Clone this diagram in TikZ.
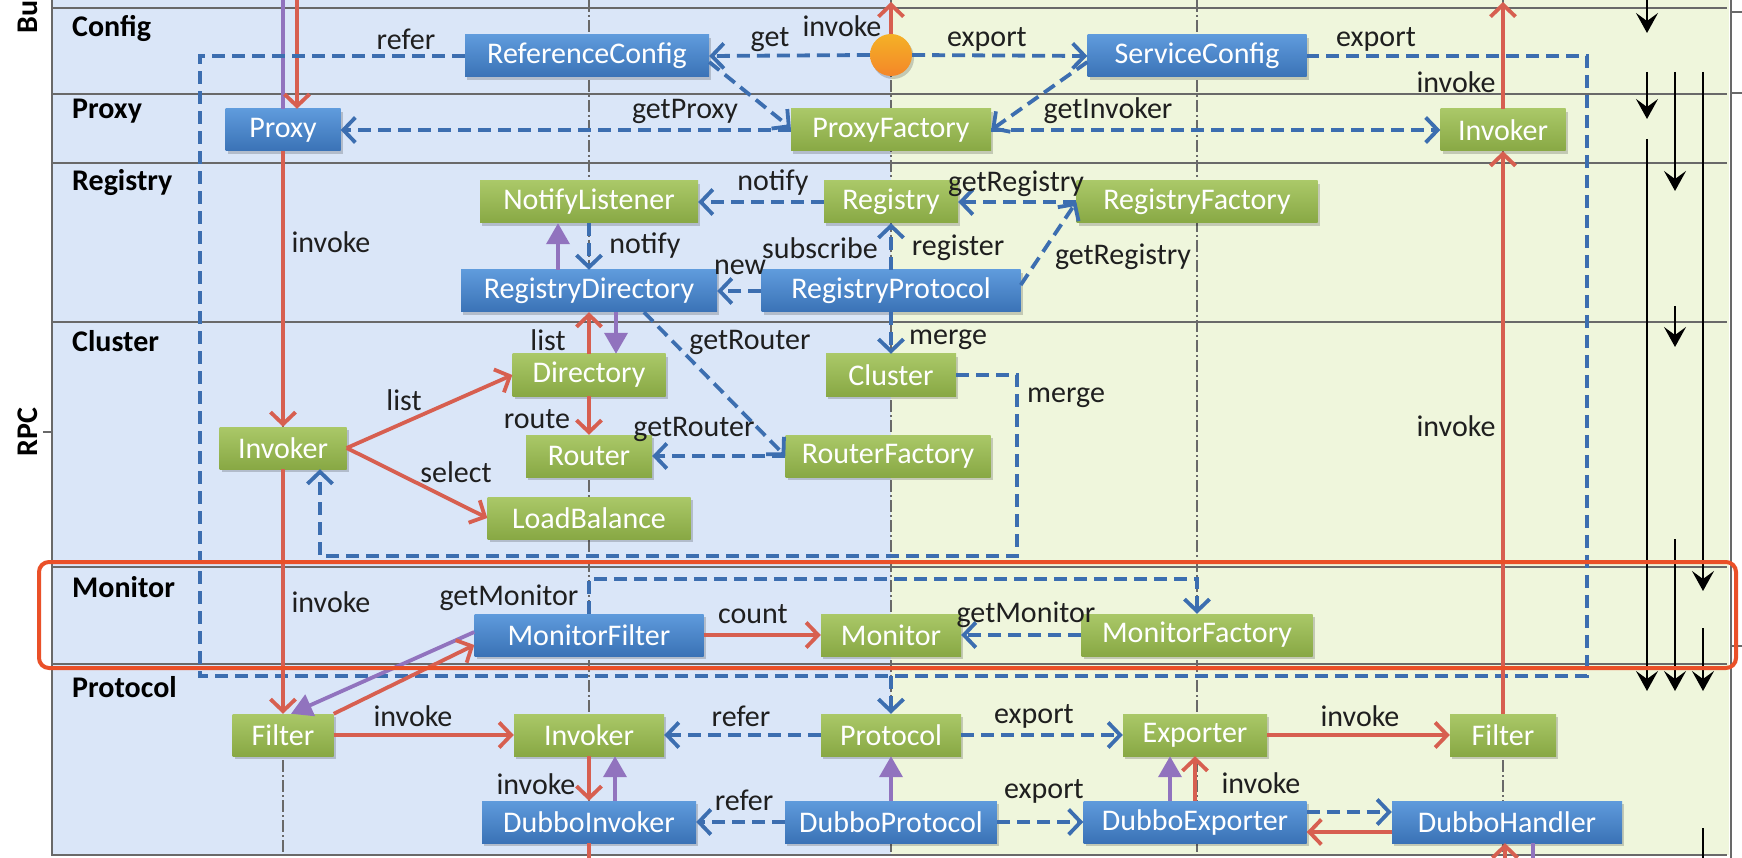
\documentclass[tikz,border=0pt]{standalone}
\usepackage{fontspec}
\setmainfont{Carlito}
\usetikzlibrary{arrows.meta,shadows}
\definecolor{bgblue}{RGB}{218,230,248}
\definecolor{bgyel}{RGB}{239,246,220}
\definecolor{bbtop}{RGB}{95,155,220}
\definecolor{bbbot}{RGB}{58,114,182}
\definecolor{gbtop}{RGB}{170,200,104}
\definecolor{gbbot}{RGB}{136,168,68}
\definecolor{dblue}{RGB}{60,110,176}
\definecolor{lred}{RGB}{215,95,80}
\definecolor{lpurple}{RGB}{145,115,190}
\definecolor{hlred}{RGB}{234,80,40}
\definecolor{gridgray}{RGB}{105,105,105}
\definecolor{orng}{RGB}{242,158,48}
\begin{document}
\begin{tikzpicture}[x=1pt,y=-1pt,
  font=\fontsize{30}{34}\selectfont,
  box/.style={rectangle, minimum height=42pt, inner xsep=14pt, inner ysep=2pt, text=white,
    general shadow={fill=black, opacity=0.18, shadow xshift=2pt, shadow yshift=-3pt}},
  bbox/.style={box, top color=bbtop, bottom color=bbbot},
  gbox/.style={box, top color=gbtop, bottom color=gbbot},
  lbl/.style={text=black!88, inner sep=0pt},
  layername/.style={font=\fontsize{30}{34}\selectfont\bfseries, anchor=west, inner sep=0pt},
  dep/.style={draw=dblue, line width=3.8pt, dash pattern=on 13pt off 7pt,
    -{Straight Barb[length=12pt,width=25pt]}},
  depline/.style={draw=dblue, line width=3.8pt, dash pattern=on 13pt off 7pt},
  inv/.style={draw=lred, line width=3.8pt, -{Straight Barb[length=12pt,width=25pt]}},
  invline/.style={draw=lred, line width=3.8pt},
  impl/.style={draw=lpurple, line width=3.8pt, -{Triangle[length=21pt,width=23pt]}},
  implline/.style={draw=lpurple, line width=3.8pt},
  flow/.style={draw=black, line width=1.8pt, -{Stealth[length=20pt,width=22pt,inset=8pt]}},
  flowline/.style={draw=black, line width=1.8pt},
  layerline/.style={draw=gridgray, line width=2pt},
  colline/.style={draw=gridgray, line width=1.6pt, dash pattern=on 12pt off 3pt on 2pt off 3pt},
]
\useasboundingbox (0,0) rectangle (1742,858);
\fill[white] (0,0) rectangle (1742,858);
\fill[bgblue] (53,0) rectangle (891,855);
\fill[bgyel] (891,0) rectangle (1729,855);

% column dash-dot lines
\foreach \x in {283,589,891,1197,1503} \draw[colline] (\x,0) -- (\x,855);
% layer lines
\foreach \y in {8,94,163,322,567,664,855} \draw[layerline] (52,\y) -- (1727,\y);
% axes
\draw[gridgray, line width=2pt] (52,0) -- (52,855) -- (62,855);
\draw[gridgray, line width=2pt] (52,432) -- (43,432);
\draw[gridgray, line width=2pt] (1731,0) -- (1731,858);
\foreach \y in {12,93,646} \draw[gridgray, line width=2pt] (1731,\y) -- (1742,\y);

% side labels
\node[font=\fontsize{30}{34}\selectfont\bfseries, rotate=90, inner sep=0pt] (bu) at (28,17) {Bu};
\node[font=\fontsize{30}{34}\selectfont\bfseries, rotate=90, inner sep=0pt] (rpc) at (28,432) {RPC};

% layer names
\node[layername] (lConfig) at (72,28) {Config};
\node[layername] (lProxy) at (72,111) {Proxy};
\node[layername] (lRegistry) at (72,183) {Registry};
\node[layername] (lCluster) at (72,341) {Cluster};
\node[layername] (lMonitor) at (72,587) {Monitor};
\node[layername] (lProtocol) at (72,687) {Protocol};

% nodes
\node[bbox, minimum width=244pt] (RefC) at (587,56) {ReferenceConfig};
\node[circle, top color=orng!80!yellow, bottom color=orng!85!red, minimum size=42pt, inner sep=0pt,
  general shadow={fill=black, opacity=0.18, shadow xshift=2pt, shadow yshift=-3pt}] (circ) at (891,55) {};
\node[bbox, minimum width=219pt] (SrvC) at (1197,56) {ServiceConfig};
\node[bbox, minimum width=115pt] (Proxy) at (283,130) {Proxy};
\node[gbox, minimum width=200pt] (PF) at (891,130) {ProxyFactory};
\node[gbox, minimum width=125pt] (InvR) at (1503,130) {Invoker};
\node[gbox, minimum width=218pt] (NL) at (589,202) {NotifyListener};
\node[gbox, minimum width=134pt] (Reg) at (891,202) {Registry};
\node[gbox, minimum width=241pt] (RegF) at (1197,202) {RegistryFactory};
\node[bbox, minimum width=256pt] (RD) at (589,291) {RegistryDirectory};
\node[bbox, minimum width=259pt] (RP) at (891,291) {RegistryProtocol};
\node[gbox, minimum width=153pt] (Dir) at (589,375) {Directory};
\node[gbox, minimum width=130pt] (Clu) at (891,375) {Cluster};
\node[gbox, minimum width=127pt] (InvL) at (283,448) {Invoker};
\node[gbox, minimum width=126pt] (Rou) at (589,456) {Router};
\node[gbox, minimum width=205pt] (RF) at (888,456) {RouterFactory};
\node[gbox, minimum width=203pt] (LB) at (589,518) {LoadBalance};
\node[bbox, minimum width=229pt] (MF) at (589,635) {MonitorFilter};
\node[gbox, minimum width=140pt] (Mon) at (891,635) {Monitor};
\node[gbox, minimum width=231pt] (MFac) at (1197,635) {MonitorFactory};
\node[gbox, minimum width=101pt] (FilL) at (283,735) {Filter};
\node[gbox, minimum width=150pt] (InvP) at (589,735) {Invoker};
\node[gbox, minimum width=140pt] (Prot) at (891,735) {Protocol};
\node[gbox, minimum width=144pt] (Exp) at (1195,735) {Exporter};
\node[gbox, minimum width=106pt] (FilR) at (1503,735) {Filter};
\node[bbox, minimum width=214pt] (DI) at (589,822) {DubboInvoker};
\node[bbox, minimum width=210pt] (DP) at (891,822) {DubboProtocol};
\node[bbox, minimum width=223pt] (DE) at (1195,822) {DubboExporter};
\node[bbox, minimum width=230pt] (DH) at (1507,822) {DubboHandler};

% free coordinates
\coordinate (topP) at (283,0);
\coordinate (topR) at (297,0);
\coordinate (topC) at (891,2);
\coordinate (topRR) at (1503,2);
\coordinate (c1) at (200,56);
\coordinate (c2) at (200,676);
\coordinate (c3) at (1587,676);
\coordinate (c4) at (1587,56);
\coordinate (c5) at (891,676);
\coordinate (l1) at (1017,556);
\coordinate (l2) at (320,556);
\coordinate (m1) at (589,579);
\coordinate (m2) at (1197,579);
\coordinate (b1) at (589,858);
\coordinate (b2) at (1505,858);
\coordinate (b3) at (1533,858);

% Config / Proxy
\draw[implline] (Proxy.north) -- (topP);
\draw[inv] (topR) -- (topR |- Proxy.north);
\draw[inv] (circ.north) -- (topC);
\draw[dep] (circ.west) -- (RefC.east);
\draw[dep] (circ.east) -- (SrvC.west);
\draw[depline] (RefC.west) -- (c1) -- (c2) -- (c3) -- (c4) -- (SrvC.east);
\draw[dep] (c5) -- (Prot.north);
\draw[dep] ([yshift=-6pt]RefC.east) -- ([yshift=2pt]PF.west);
\draw[dep] ([yshift=-6pt]SrvC.west) -- (PF.east);
\draw[dep] (PF.west) -- (Proxy.east);
\draw[dep] (PF.east) -- (InvR.west);
\draw[inv] (InvR.north) -- (topRR);
\draw[inv] (FilR.north) -- (InvR.south);

% Registry
\draw[dep] (Reg.west) -- (NL.east);
\draw[dep] (RegF.west) -- (Reg.east);
\draw[dep] ([yshift=6pt]RP.east) -- (RegF.west);
\draw[dep] (NL.south) -- (RD.north);
\draw[impl] ([xshift=-31pt]RD.north) -- ([xshift=-31pt]NL.south);
\draw[dep] (RP.west) -- (RD.east);
\draw[dep] (RP.north) -- (Reg.south);
\draw[dep] (RP.south) -- (Clu.north);
\draw[inv] (Dir.north) -- (RD.south);
\draw[impl] ([xshift=27pt]RD.south) -- ([xshift=27pt]Dir.north);
\draw[dep] ([xshift=55pt]RD.south) -- (RF.west);

% Cluster
\draw[inv] (Proxy.south) -- (InvL.north);
\draw[inv] (InvL.east) -- (Dir.west);
\draw[inv] (InvL.east) -- (LB.west);
\draw[inv] (Dir.south) -- (Rou.north);
\draw[dep] (RF.west) -- (Rou.east);
\draw[dep] (Clu.east) -- (Clu.east -| l1) -- (l1) -- (l2) -- (l2 |- InvL.south);

% Monitor
\draw[inv] (InvL.south) -- (FilL.north);
\draw[inv] (MF.east) -- (Mon.west);
\draw[dep] (MFac.west) -- (Mon.east);
\draw[dep] (MF.north) -- (m1) -- (m2) -- (MFac.north);
\draw[impl] ([yshift=3pt]MF.west) -- ([xshift=8pt]FilL.north);
\draw[inv] (FilL.north east) -- ([yshift=-10pt]MF.west);

% Protocol
\draw[inv] (FilL.east) -- (InvP.west);
\draw[dep] (Prot.west) -- (InvP.east);
\draw[dep] (Prot.east) -- (Exp.west);
\draw[inv] (Exp.east) -- (FilR.west);
\draw[inv] (InvP.south) -- (DI.north);
\draw[impl] ([xshift=26pt]DI.north) -- ([xshift=26pt]InvP.south);
\draw[impl] (DP.north) -- (Prot.south);
\draw[dep] (DP.west) -- (DI.east);
\draw[dep] (DP.east) -- (DE.west);
\draw[impl] ([xshift=-25pt]DE.north) -- ([xshift=-25pt]Exp.south);
\draw[inv] (DE.north) -- (Exp.south);
\draw[dep] ([yshift=10pt]DE.east) -- ([yshift=10pt]DH.west);
\draw[inv] ([yshift=-10pt]DH.west) -- ([yshift=-10pt]DE.east);
\draw[invline] (DI.south) -- (b1);
\draw[inv] (b2) -- (b2 |- DH.south);
\draw[implline] (b3 |- DH.south) -- (b3);

% right-hand flow arrows
\draw[flow] (1647,0) -- (1647,33);
\draw[flow] (1647,72) -- (1647,119);
\draw[flow] (1647,139) -- (1647,691);
\draw[flow] (1675,72) -- (1675,191);
\draw[flow] (1675,306) -- (1675,347);
\draw[flow] (1675,539) -- (1675,691);
\draw[flow] (1703,72) -- (1703,591);
\draw[flow] (1703,628) -- (1703,691);
\draw[flowline] (1703,828) -- (1703,858);

% labels
\node[lbl] (t1) at (406,39) {refer};
\node[lbl] (t2) at (770,40) {get};
\node[lbl] (t3) at (842,26) {invoke};
\node[lbl] (t4) at (987,39) {export};
\node[lbl] (t5) at (1376,39) {export};
\node[lbl] (t6) at (1456,82) {invoke};
\node[lbl] (t7) at (685,111) {getProxy};
\node[lbl] (t8) at (1108,111) {getInvoker};
\node[lbl] (t9) at (773,183) {notify};
\node[lbl] (t10) at (1016,184) {getRegistry};
\node[lbl] (t11) at (645,246) {notify};
\node[lbl] (t12) at (820,248) {subscribe};
\node[lbl] (t13) at (958,248) {register};
\node[lbl] (t14) at (740,267) {new};
\node[lbl] (t15) at (1123,257) {getRegistry};
\node[lbl] (t16) at (548,340) {list};
\node[lbl] (t17) at (750,342) {getRouter};
\node[lbl] (t18) at (948,340) {merge};
\node[lbl] (t19) at (1066,398) {merge};
\node[lbl] (t20) at (404,400) {list};
\node[lbl] (t21) at (537,419) {route};
\node[lbl] (t22) at (694,429) {getRouter};
\node[lbl] (t23) at (456,472) {select};
\node[lbl] (t24) at (331,242) {invoke};
\node[lbl] (t25) at (1456,426) {invoke};
\node[lbl] (t26) at (331,602) {invoke};
\node[lbl] (t27) at (509,598) {getMonitor};
\node[lbl] (t28) at (753,614) {count};
\node[lbl] (t29) at (1026,615) {getMonitor};
\node[lbl] (t30) at (413,716) {invoke};
\node[lbl] (t31) at (741,716) {refer};
\node[lbl] (t32) at (1034,716) {export};
\node[lbl] (t33) at (1360,716) {invoke};
\node[lbl] (t34) at (536,784) {invoke};
\node[lbl] (t35) at (744,800) {refer};
\node[lbl] (t36) at (1044,791) {export};
\node[lbl] (t37) at (1261,783) {invoke};

% highlight
\draw[hlred, line width=4pt, rounded corners=10pt] (39,562) rectangle (1736,668);
\end{tikzpicture}
\end{document}
